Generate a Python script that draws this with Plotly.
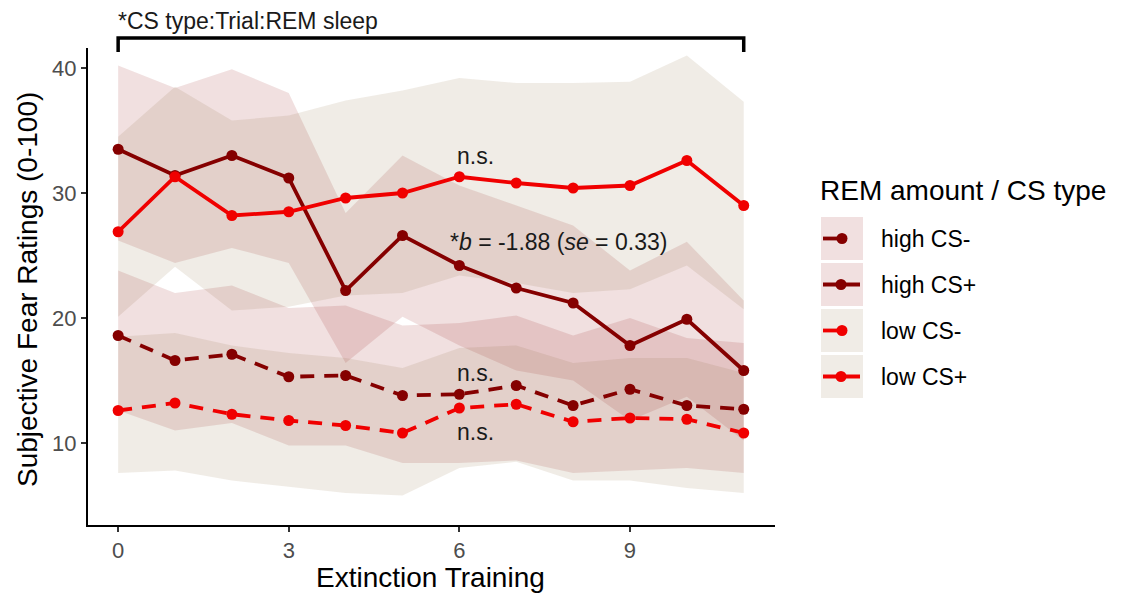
import plotly.graph_objects as go

trial = list(range(12))

high_csp = [33.5, 31.4, 33.0, 31.2, 22.2, 26.6, 24.2, 22.4, 21.2, 17.8, 19.9, 15.8]
high_csp_hi = [40.2, 38.4, 39.9, 38.0, 28.4, 33.0, 30.6, 29.0, 27.4, 23.8, 26.1, 21.4]
high_csp_lo = [26.2, 24.4, 25.6, 24.4, 16.4, 20.1, 17.8, 15.8, 15.0, 11.8, 13.7, 10.2]

high_csm = [18.6, 16.6, 17.1, 15.3, 15.4, 13.8, 13.9, 14.6, 13.0, 14.3, 13.0, 12.7]
high_csm_hi = [23.8, 22.0, 22.6, 20.8, 21.0, 19.4, 19.6, 20.2, 18.6, 20.0, 18.4, 18.0]
high_csm_lo = [12.6, 11.0, 11.6, 9.8, 9.8, 8.4, 8.4, 8.6, 7.6, 7.8, 8.0, 7.6]

low_csp = [26.9, 31.3, 28.2, 28.5, 29.6, 30.0, 31.3, 30.8, 30.4, 30.6, 32.6, 29.0]
low_csp_hi = [34.5, 38.5, 35.8, 36.2, 37.4, 38.2, 39.2, 38.8, 38.8, 38.9, 41.0, 37.3]
low_csp_lo = [20.1, 24.1, 20.6, 20.9, 21.8, 22.0, 23.4, 22.8, 22.0, 22.3, 24.2, 20.7]

low_csm = [12.6, 13.2, 12.3, 11.8, 11.4, 10.8, 12.8, 13.1, 11.7, 12.0, 11.9, 10.8]
low_csm_hi = [18.5, 18.8, 17.8, 17.2, 16.8, 16.0, 17.6, 17.8, 16.4, 16.8, 16.8, 15.6]
low_csm_lo = [7.6, 7.8, 7.0, 6.5, 6.0, 5.8, 8.0, 8.5, 7.0, 7.0, 6.4, 6.0]

legend_labels = ["high CS-", "high CS+", "low CS-", "low CS+"]
x_ticks = [0, 3, 6, 9]
y_ticks = [10, 20, 30, 40]

DARK = "#850000"
RED = "#F00000"
FILL_HIGH = "rgba(139,0,0,0.12)"
FILL_LOW = "rgba(130,97,47,0.12)"
FONT = "Liberation Sans, Arial, sans-serif"

fig = go.Figure()

series = [
    (high_csp, high_csp_hi, high_csp_lo, DARK, FILL_HIGH, "solid", "high CS+"),
    (low_csp, low_csp_hi, low_csp_lo, RED, FILL_LOW, "solid", "low CS+"),
    (high_csm, high_csm_hi, high_csm_lo, DARK, FILL_HIGH, "14px,10px", "high CS-"),
    (low_csm, low_csm_hi, low_csm_lo, RED, FILL_LOW, "14px,10px", "low CS-"),
]

for mean, hi, lo, col, fill, dash, name in series:
    fig.add_trace(go.Scatter(
        x=trial + trial[::-1], y=hi + lo[::-1], fill="toself", fillcolor=fill,
        line=dict(width=0), mode="lines", hoverinfo="skip", showlegend=False))

for mean, hi, lo, col, fill, dash, name in series:
    fig.add_trace(go.Scatter(
        x=trial, y=mean, mode="lines+markers", name=name, showlegend=False,
        line=dict(color=col, width=3.8, dash=dash),
        marker=dict(color=col, size=11)))

# page body has an 8px margin: figure is placed at (8,8)
OFF = 8
FW, FH = 1126 - 2 * OFF, 599 - OFF
# panel box in window pixels
L, T, W, H = 88, 48, 687, 477
def px(x):
    return (x - L) / W
def py(y):
    return (T + H - y) / H

TXT = "#1a1a1a"
ann = [
    dict(x=6.28, y=33.0, text="n.s."),
    dict(x=7.75, y=26.1, text="*<i>b</i> = -1.88 (<i>se</i> = 0.33)"),
    dict(x=6.28, y=15.6, text="n.s."),
    dict(x=6.28, y=10.9, text="n.s."),
]
for a in ann:
    fig.add_annotation(x=a["x"], y=a["y"], text=a["text"], showarrow=False,
                       xref="x", yref="y", xanchor="center", yanchor="middle",
                       font=dict(family=FONT, size=23, color=TXT))

fig.add_annotation(x=-0.03, y=py(21), text="*CS type:Trial:REM sleep", showarrow=False,
                   xref="x", yref="paper", xanchor="left", yanchor="middle",
                   font=dict(family=FONT, size=23, color=TXT))

# significance bracket (x in data units, y above the panel)
fig.add_shape(type="path", xref="x", yref="paper",
              path=f"M 0 {py(52)} L 0 {py(38)} L 11 {py(38)} L 11 {py(52)}",
              line=dict(color="black", width=3.5))

# axis titles
fig.add_annotation(x=px(27), y=py(290), xref="paper", yref="paper", textangle=-90,
                   xanchor="center", yanchor="middle",
                   showarrow=False, text="Subjective Fear Ratings (0-100)",
                   font=dict(family=FONT, size=28, color="black"))
fig.add_annotation(x=px(430), y=py(577), xref="paper", yref="paper",
                   xanchor="center", yanchor="middle",
                   showarrow=False, text="Extinction Training",
                   font=dict(family=FONT, size=28, color="black"))

# custom legend
fig.add_annotation(x=px(818), y=py(190), xref="paper", yref="paper", xanchor="left",
                   yanchor="middle", showarrow=False, text="REM amount / CS type",
                   font=dict(family=FONT, size=28, color="black"))
key_tops = [217, 263, 309, 355]
key_cols = [DARK, DARK, RED, RED]
key_fill = [FILL_HIGH, FILL_HIGH, FILL_LOW, FILL_LOW]
for i, (top, lab) in enumerate(zip(key_tops, legend_labels)):
    cy = top + 21.5
    fig.add_shape(type="rect", xref="paper", yref="paper",
                  x0=px(821), x1=px(863), y0=py(top + 43), y1=py(top),
                  fillcolor=key_fill[i], line=dict(width=0))
    minus = lab.endswith("-")
    x_end = 842 if minus else 860
    fig.add_shape(type="line", xref="paper", yref="paper",
                  x0=px(823), x1=px(x_end), y0=py(cy), y1=py(cy),
                  line=dict(color=key_cols[i], width=3.8))
    cx = 842 if minus else 841
    fig.add_shape(type="circle", xref="paper", yref="paper",
                  x0=px(cx - 5.5), x1=px(cx + 5.5), y0=py(cy + 5.5), y1=py(cy - 5.5),
                  fillcolor=key_cols[i], line=dict(width=0))
    fig.add_annotation(x=px(879), y=py(cy), xref="paper", yref="paper", xanchor="left",
                       yanchor="middle", showarrow=False, text=lab,
                       font=dict(family=FONT, size=23, color="black"))

fig.update_layout(
    width=FW, height=FH,
    margin=dict(l=L - OFF, r=FW - (L - OFF) - W, t=T - OFF, b=FH - (T - OFF) - H),
    paper_bgcolor="white", plot_bgcolor="white",
    font=dict(family=FONT),
    xaxis=dict(range=[-0.53, 11.55], tickvals=x_ticks, ticktext=[str(v) for v in x_ticks],
               showgrid=False, zeroline=False, showline=True, linecolor="black", linewidth=2,
               ticks="outside", ticklen=5, tickwidth=1.6, tickcolor="#333333", automargin=False,
               tickfont=dict(family=FONT, size=22, color="#4d4d4d")),
    yaxis=dict(range=[3.44, 41.6], tickvals=y_ticks, ticktext=[str(v) for v in y_ticks],
               showgrid=False, zeroline=False, showline=True, linecolor="black", linewidth=2,
               ticks="outside", ticklen=5, tickwidth=1.6, tickcolor="#333333", automargin=False,
               tickfont=dict(family=FONT, size=22, color="#4d4d4d")),
    showlegend=False,
)

fig.write_html("out.html")
